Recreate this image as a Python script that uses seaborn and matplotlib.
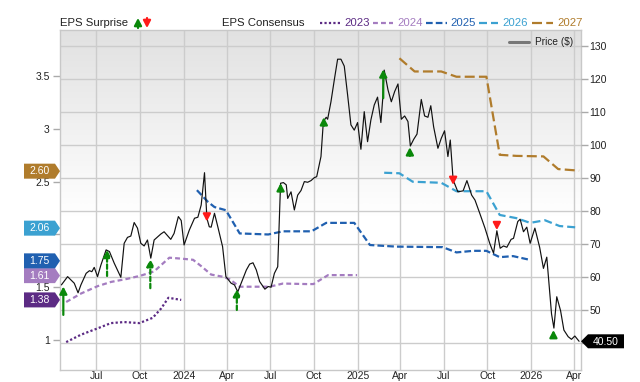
import numpy as np
import pandas as pd
import matplotlib
matplotlib.use("Agg")
import matplotlib.pyplot as plt
import matplotlib.dates as mdates
import matplotlib.ticker as mticker
import seaborn as sns
from matplotlib.lines import Line2D
from matplotlib.patches import Polygon, FancyArrowPatch
from matplotlib.transforms import blended_transform_factory, ScaledTranslation
from matplotlib.colors import LinearSegmentedColormap

# ---------------- data ----------------
price_dates = [
    '2023-04-19', '2023-05-02', '2023-05-16', '2023-05-24', '2023-05-30', '2023-06-10', '2023-06-17',
    '2023-06-22', '2023-06-27', '2023-07-04', '2023-07-11', '2023-07-22', '2023-07-29', '2023-08-08',
    '2023-08-22', '2023-08-29', '2023-09-05', '2023-09-12', '2023-09-19', '2023-09-26', '2023-10-03',
    '2023-10-10', '2023-10-17', '2023-10-24', '2023-10-31', '2023-11-14', '2023-11-21', '2023-12-05',
    '2023-12-12', '2023-12-21', '2023-12-27', '2024-01-02', '2024-01-13', '2024-01-24', '2024-01-31',
    '2024-02-07', '2024-02-14', '2024-02-19', '2024-02-24', '2024-02-28', '2024-03-06', '2024-03-13',
    '2024-03-23', '2024-03-30', '2024-04-10', '2024-04-17', '2024-04-24', '2024-05-01', '2024-05-12',
    '2024-05-19', '2024-05-26', '2024-06-02', '2024-06-09', '2024-06-20', '2024-06-27', '2024-07-03',
    '2024-07-10', '2024-07-17', '2024-07-23', '2024-07-29', '2024-08-04', '2024-08-07', '2024-08-14',
    '2024-08-21', '2024-08-28', '2024-09-04', '2024-09-11', '2024-09-18', '2024-09-25', '2024-10-02',
    '2024-10-07', '2024-10-13', '2024-10-16', '2024-10-21', '2024-10-27', '2024-10-30', '2024-11-06',
    '2024-11-13', '2024-11-20', '2024-11-27', '2024-12-04', '2024-12-11', '2024-12-18', '2024-12-25',
    '2025-01-01', '2025-01-08', '2025-01-15', '2025-01-22', '2025-01-29', '2025-02-05', '2025-02-12',
    '2025-02-19', '2025-02-23', '2025-02-26', '2025-03-06', '2025-03-13', '2025-03-20', '2025-03-27',
    '2025-04-03', '2025-04-10', '2025-04-17', '2025-04-22', '2025-04-29', '2025-05-06', '2025-05-15',
    '2025-05-22', '2025-05-29', '2025-06-04', '2025-06-10', '2025-06-19', '2025-06-26', '2025-07-03',
    '2025-07-10', '2025-07-15', '2025-07-21', '2025-07-31', '2025-08-11', '2025-08-19', '2025-08-29',
    '2025-09-05', '2025-09-15', '2025-09-26', '2025-10-06', '2025-10-14', '2025-10-21', '2025-10-28',
    '2025-11-04', '2025-11-11', '2025-11-20', '2025-11-25', '2025-12-04', '2025-12-09', '2025-12-16',
    '2025-12-23', '2025-12-30', '2026-01-09', '2026-01-19', '2026-01-27', '2026-02-03', '2026-02-13',
    '2026-02-18', '2026-02-24', '2026-03-04', '2026-03-11', '2026-03-20', '2026-03-27', '2026-04-03',
    '2026-04-12']
price_values = [
    57.6, 60.1, 58.1, 55.2, 57.6, 61.1, 61.9,
    61.6, 62.9, 60.1, 63.6, 68.2, 67.7, 64.2,
    59.9, 70.2, 72.0, 72.4, 76.5, 74.8, 70.2,
    69.4, 71.2, 65.7, 71.2, 73.0, 73.7, 71.4,
    73.2, 78.3, 77.1, 69.7, 74.2, 77.8, 78.1,
    81.8, 91.6, 77.8, 75.2, 75.1, 79.3, 75.2,
    69.2, 60.1, 58.1, 57.6, 55.5, 58.1, 62.1,
    63.9, 64.3, 62.1, 58.6, 56.3, 57.1, 56.9,
    61.1, 63.1, 88.4, 88.6, 87.9, 83.8, 85.8,
    80.3, 84.8, 86.2, 88.9, 88.7, 89.2, 90.1,
    90.4, 94.5, 96.5, 107.1, 108.4, 107.8, 113.1,
    119.7, 126.0, 126.0, 123.9, 115.2, 106.1, 104.5,
    106.8, 98.7, 110.1, 101.0, 107.6, 112.1, 114.5,
    106.8, 114.2, 122.7, 116.7, 113.1, 116.2, 118.5,
    107.8, 108.8, 107.1, 99.7, 101.7, 103.3, 113.8,
    108.8, 108.4, 111.9, 105.5, 99.0, 102.0, 104.3,
    96.5, 101.5, 89.4, 85.8, 86.1, 89.2, 84.8,
    83.3, 79.3, 74.8, 70.2, 67.2, 74.0, 68.7,
    69.4, 69.0, 71.4, 71.7, 76.8, 77.5, 73.7,
    75.1, 70.2, 74.8, 69.0, 62.6, 66.0, 48.8,
    44.5, 54.0, 49.8, 43.9, 41.9, 41.1, 42.1,
    40.5]

eps2023_dates = ['2023-04-29', '2023-05-30', '2023-07-04', '2023-08-01', '2023-08-29', '2023-09-30',
                 '2023-10-28', '2023-11-15', '2023-11-30', '2023-12-27']
eps2023_values = [0.98, 1.05, 1.11, 1.16, 1.17, 1.16, 1.21, 1.30, 1.40, 1.38]

eps2024_dates = ['2023-04-29', '2023-05-30', '2023-07-04', '2023-08-01', '2023-09-05', '2023-10-03',
                 '2023-10-31', '2023-12-02', '2023-12-30', '2024-01-21', '2024-02-07', '2024-02-28',
                 '2024-03-23', '2024-04-07', '2024-04-28', '2024-06-30', '2024-07-28', '2024-09-16',
                 '2024-09-30', '2024-10-31', '2024-12-31']
eps2024_values = [1.36, 1.44, 1.51, 1.55, 1.58, 1.61, 1.65, 1.78, 1.77, 1.76, 1.70, 1.62,
                  1.60, 1.575, 1.505, 1.505, 1.535, 1.53, 1.53, 1.615, 1.615]

eps2025_dates = ['2024-01-29', '2024-02-21', '2024-03-06', '2024-03-30', '2024-04-28', '2024-06-27',
                 '2024-07-28', '2024-09-26', '2024-10-27', '2024-12-25', '2025-01-27', '2025-03-23',
                 '2025-06-29', '2025-07-28', '2025-09-01', '2025-09-29', '2025-10-27', '2025-11-24',
                 '2025-12-29']
eps2025_values = [2.42, 2.31, 2.26, 2.23, 2.01, 2.00, 2.03, 2.03, 2.11, 2.11, 1.90, 1.885,
                  1.88, 1.83, 1.845, 1.845, 1.785, 1.795, 1.76]

eps2026_dates = ['2025-02-26', '2025-03-30', '2025-04-27', '2025-06-26', '2025-07-28', '2025-09-29',
                 '2025-10-27', '2025-12-01', '2025-12-30', '2026-01-30', '2026-03-02', '2026-04-12']
eps2026_values = [2.585, 2.58, 2.50, 2.49, 2.41, 2.41, 2.185, 2.155, 2.11, 2.135, 2.08, 2.065]

eps2027_dates = ['2025-03-30', '2025-05-01', '2025-06-26', '2025-07-28', '2025-09-29', '2025-10-27',
                 '2025-12-01', '2026-01-27', '2026-02-27', '2026-04-12']
eps2027_values = [3.67, 3.545, 3.545, 3.495, 3.495, 2.755, 2.745, 2.74, 2.62, 2.605]

consensus_labels = ['2023', '2024', '2025', '2026', '2027']
consensus_tags = ['1.38', '1.61', '1.75', '2.06', '2.60']

surprise_dates = ['2023-04-23', '2023-07-24', '2023-10-23', '2024-02-19', '2024-04-22', '2024-07-23',
                  '2024-10-22', '2025-02-24', '2025-04-21', '2025-07-21', '2025-10-21', '2026-02-17']
surprise_from = [48.5, 60.3, 56.6, 78.8, 50.0, 85.8, 105.8, 114.2, 96.7, 89.9, 76.3, 41.7]
surprise_to = [57.1, 68.2, 65.4, 76.8, 56.3, 88.4, 108.4, 122.9, 99.3, 87.9, 74.2, 43.9]
surprise_dashed = [False, True, True, False, True, False, False, False, False, False, False, False]

last_price_label = '40.50'
last_price = 40.5
price_ticks = [40, 50, 60, 70, 80, 90, 100, 110, 120, 130]
price_tick_labels = ['', '50', '60', '70', '80', '90', '100', '110', '120', '130']
eps_ticks = [1, 1.5, 2, 2.5, 3, 3.5]
eps_tick_labels = ['1', '1.5', '', '2.5', '3', '3.5']

# ---------------- style ----------------
sns.set_theme(style="white")
plt.rcParams['font.family'] = ['Liberation Sans', 'DejaVu Sans']

colors = {'2023': '#5c2b84', '2024': '#a47cc0', '2025': '#2060b0',
          '2026': '#3ba1d1', '2027': '#b07c2c'}
styles = {'2023': (0, (1, 1)), '2024': (0, (2.2, 1.4)), '2025': (0, (3, 1.4)),
          '2026': (0, (3.6, 1.8)), '2027': (0, (4.5, 1.9))}
GREEN = '#0a880a'
RED = '#ff1a1a'
GRID = '#cccccc'
TXT = '#222222'
HEAD = '-|>,head_width=0.22,head_length=0.42'

W, H = 640, 382
fig = plt.figure(figsize=(W / 100, H / 100), dpi=100)
L, R, T, B = 60, 581, 30, 370
rect = [L / W, 1 - B / H, (R - L) / W, (B - T) / H]

# background gradient
ax_bg = fig.add_axes(rect, zorder=0)
yy = np.linspace(0, 1, 256)[:, None]
vals = np.clip((yy - 0.45) / 0.55, 0, 1)
cmap = LinearSegmentedColormap.from_list('g', ['#ffffff', '#e1e1e1'])
ax_bg.imshow(vals, cmap=cmap, aspect='auto', origin='lower', extent=[0, 1, 0, 1], vmin=0, vmax=1)
ax_bg.set_axis_off()

ax_e = fig.add_axes(rect, zorder=1)
ax_e.patch.set_visible(False)
ax_p = ax_e.twinx()
ax_p.set_zorder(2)
ax_p.patch.set_visible(False)

# consensus lines
series = {
    '2023': (eps2023_dates, eps2023_values),
    '2024': (eps2024_dates, eps2024_values),
    '2025': (eps2025_dates, eps2025_values),
    '2026': (eps2026_dates, eps2026_values),
    '2027': (eps2027_dates, eps2027_values),
}
for key, (d, v) in series.items():
    df = pd.DataFrame({'date': pd.to_datetime(d), 'eps': v})
    sns.lineplot(data=df, x='date', y='eps', ax=ax_e, color=colors[key], lw=1.6,
                 linestyle=styles[key], estimator=None, sort=False, legend=False)

# price line
dfp = pd.DataFrame({'date': pd.to_datetime(price_dates), 'price': price_values})
sns.lineplot(data=dfp, x='date', y='price', ax=ax_p, color='#111111', lw=0.85,
             estimator=None, sort=False, legend=False, zorder=4)

# surprise arrows
for d, f, t, dsh in zip(surprise_dates, surprise_from, surprise_to, surprise_dashed):
    xd = mdates.date2num(pd.Timestamp(d))
    c = GREEN if t > f else RED
    ls = (0, (2, 1.2)) if dsh else '-'
    ax_p.annotate('', xy=(xd, t), xytext=(xd, f),
                  arrowprops=dict(arrowstyle=HEAD, color=c, lw=1.6, linestyle=ls,
                                  shrinkA=0, shrinkB=0, mutation_scale=10),
                  zorder=6)

# limits
ax_e.set_xlim(pd.Timestamp('2023-04-16'), pd.Timestamp('2026-04-16'))
ax_e.set_ylim(0.7156, 3.938)
ax_p.set_ylim(31.8, 134.85)

# grid: vertical at quarter starts, horizontal at price ticks
ax_e.xaxis.set_major_locator(mdates.MonthLocator(bymonth=[1, 4, 7, 10]))
def fmt(x, pos):
    dt = mdates.num2date(x)
    return dt.strftime('%Y') if dt.month == 1 else dt.strftime('%b')
ax_e.xaxis.set_major_formatter(mticker.FuncFormatter(fmt))
ax_e.set_axisbelow(True)
ax_e.grid(axis='x', color=GRID, lw=1.0)
ax_e.grid(axis='y', visible=False)
ax_p.grid(False)
hb = blended_transform_factory(ax_e.transAxes, ax_p.transData)
for v in price_ticks:
    ax_e.add_line(Line2D([0, 1], [v, v], transform=hb, color=GRID, lw=1.0, zorder=0.6))

ax_e.set_yticks(eps_ticks)
ax_e.set_yticklabels(eps_tick_labels)
ax_p.set_yticks(price_ticks)
ax_p.set_yticklabels(price_tick_labels)
for a in (ax_e, ax_p):
    a.set_xlabel('')
    a.set_ylabel('')
ax_e.tick_params(axis='y', left=True, length=5, width=1, color='#aaaaaa',
                 labelsize=7.5, labelcolor=TXT, pad=2.5)
ax_e.tick_params(axis='x', bottom=True, length=0, labelsize=7.5, labelcolor=TXT, pad=1)
ax_p.tick_params(axis='y', right=True, length=5, width=1, color='#aaaaaa',
                 labelsize=7.5, labelcolor=TXT, pad=1)
for s in ax_e.spines.values():
    s.set_color('#c8c8c8')
    s.set_linewidth(1)
for s in ax_p.spines.values():
    s.set_visible(False)

# left value tags
eb = blended_transform_factory(ax_e.transAxes, ax_e.transData)
for key, tag in zip(consensus_labels, consensus_tags):
    val = float(tag)
    tr = fig.dpi_scale_trans + ScaledTranslation(0, val, eb)
    verts = np.array([[0, 0], [-5, 7.5], [-36, 7.5], [-36, -7.5], [-5, -7.5]]) / 100
    ax_p.add_artist(Polygon(verts, closed=True, transform=tr, facecolor=colors[key],
                            edgecolor='none', clip_on=False, zorder=20))
    ax_p.text(-20.5 / 100, -0.3 / 100, tag, transform=tr, color='white', ha='center',
              va='center', fontsize=7.5, zorder=21, clip_on=False)

# right last-price tag
pb = blended_transform_factory(ax_p.transAxes, ax_p.transData)
tr = fig.dpi_scale_trans + ScaledTranslation(1, last_price, pb)
verts = np.array([[0, 0], [7, 7], [43, 7], [43, -7], [7, -7]]) / 100
ax_p.add_artist(Polygon(verts, closed=True, transform=tr, facecolor='black',
                        edgecolor='none', clip_on=False, zorder=20))
ax_p.text(25 / 100, -0.3 / 100, last_price_label, transform=tr, color='white', ha='center',
          va='center', fontsize=7.5, zorder=21, clip_on=False)

# ---------------- header legend ----------------
def fx(x):
    return x / W
def fy(y):
    return 1 - y / H

fig.text(fx(60), fy(23), 'EPS Surprise', ha='left', va='center', fontsize=8.2, color=TXT)
fig.add_artist(FancyArrowPatch((fx(138), fy(28)), (fx(138), fy(18)), transform=fig.transFigure,
                               arrowstyle=HEAD, mutation_scale=10,
                               color=GREEN, lw=1.6, shrinkA=0, shrinkB=0))
fig.add_artist(FancyArrowPatch((fx(147), fy(18)), (fx(147), fy(28)), transform=fig.transFigure,
                               arrowstyle=HEAD, mutation_scale=10,
                               color=RED, lw=1.6, shrinkA=0, shrinkB=0))
fig.text(fx(222), fy(23), 'EPS Consensus', ha='left', va='center', fontsize=8.2, color=TXT)
leg_pos = [(320, 340, 344), (373, 393, 397), (426, 447, 450), (479, 498, 502), (532, 553, 557)]
for key, (x0, x1, xt) in zip(consensus_labels, leg_pos):
    fig.add_artist(Line2D([fx(x0), fx(x1)], [fy(22.5), fy(22.5)], transform=fig.transFigure,
                          color=colors[key], lw=1.6, linestyle=styles[key]))
    fig.text(fx(xt), fy(23), key, ha='left', va='center', fontsize=8.2, color=colors[key])

fig.add_artist(Line2D([fx(509), fx(529)], [fy(42), fy(42)], transform=fig.transFigure,
                      color='#777777', lw=2.2))
fig.text(fx(535), fy(42), 'Price ($)', ha='left', va='center', fontsize=7.3, color=TXT)

fig.savefig('out.png', dpi=100)
